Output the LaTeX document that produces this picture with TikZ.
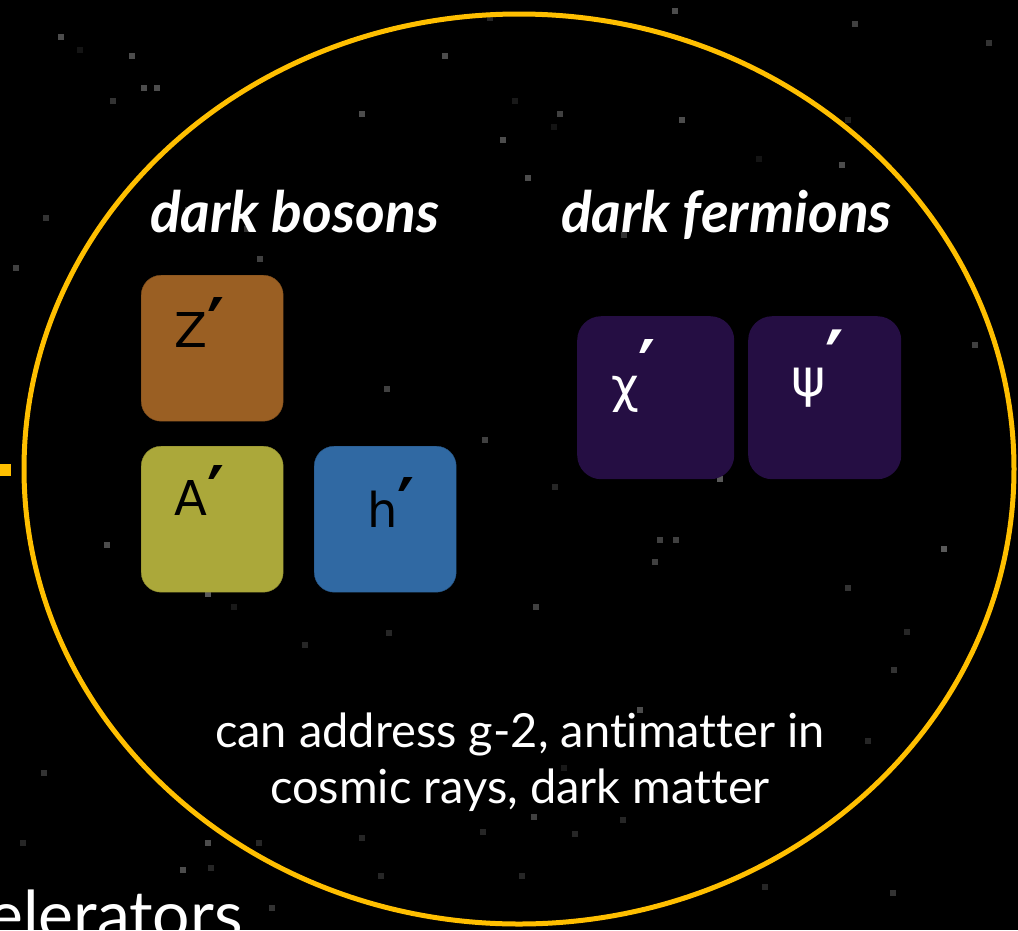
\documentclass[tikz,border=0pt]{standalone}
\usepackage{fontspec}
\setmainfont{Lato}[Ligatures={NoCommon}]
\newfontfamily\glyphfont{DejaVu Sans}
\definecolor{ringgold}{HTML}{FFBF00}
\definecolor{zbrown}{HTML}{9A5F23}
\definecolor{aolive}{HTML}{ABA83A}
\definecolor{hblue}{HTML}{3069A3}
\definecolor{fpurple}{HTML}{250E43}
\newcommand{\dkprime}[1]{\raisebox{#1}{\scalebox{1.35}[1.6]{\bfseries ′}}}

\begin{document}
\begin{tikzpicture}[x=1pt, y=-1pt,
    boson/.style={rounded corners=20pt, minimum width=142pt, minimum height=146pt,
        anchor=north west, inner sep=0pt},
    fermion/.style={boson, rounded corners=24pt, minimum height=163pt, fill=fpurple},
    glyph/.style={font=\glyphfont\fontsize{48}{48}\selectfont, anchor=base west, inner sep=0pt},
    heading/.style={text=white, font=\fontsize{57}{60}\selectfont\bfseries\itshape,
        anchor=base west, inner sep=0pt}]
    % Sky
    \fill[black] (0,0) rectangle (1018,930);
    \useasboundingbox (0,0) rectangle (1018,930);
    \clip (0,0) rectangle (1018,930);
    \foreach \sx/\sy/\sg in {61/37/30, 80/50/8, 132/56/30, 144/88/30, 157/88/30, 113/101/20,
        362/114/30, 445/56/30, 490/18/15, 675/11/30, 855/24/25, 989/43/20, 515/101/10,
        560/114/25, 554/127/8, 503/140/30, 682/120/30, 759/159/8, 842/165/30, 848/120/12,
        528/178/30, 188/210/25, 247/229/20, 260/259/25, 624/235/20, 46/218/20, 16/268/25,
        202/300/40, 221/332/35, 151/409/40, 387/389/25, 485/440/25, 445/498/35, 975/345/25,
        555/487/15, 208/594/35, 234/607/10, 752/415/35, 720/479/35, 944/549/35, 107/545/30,
        660/540/25, 676/540/25, 655/562/25, 536/607/25, 848/588/20, 907/632/15, 894/670/20,
        305/645/15, 389/633/15, 44/773/20, 640/710/30, 564/768/10, 534/817/25, 868/741/15,
        23/843/15, 208/843/30, 259/843/15, 183/870/30, 272/908/20, 381/876/15, 522/876/15,
        362/838/15, 483/832/15, 575/834/15, 623/820/15, 765/887/15, 893/893/20, 211/868/15}
        \fill[white!\sg!black] (\sx-3,\sy-3) rectangle +(6,6);
    % Ring
    \draw[ringgold, line width=5pt] (519,469) ellipse [x radius=495pt, y radius=455pt];
    \coordinate (stub) at (11,470);
    \draw[ringgold, line width=12pt] (0,470) -- (stub);
    % Headings
    \node[heading] (bosons) at (150,232) {dark bosons};
    \node[heading] (fermions) at (561,232) {dark fermions};
    % Bosons
    \node[boson, fill=zbrown, draw=zbrown!80!black] (zbox) at (141,275) {};
    \node[boson, fill=aolive, draw=aolive!80!black] (abox) at (141,446) {};
    \node[boson, fill=hblue, draw=hblue!80!black] (hbox) at (314,446) {};
    \node[glyph] (zlbl) at (174,347) {Z\dkprime{-6pt}};
    \node[glyph] (albl) at (174,515) {A\dkprime{-6pt}};
    \node[glyph] (hlbl) at (367,527) {h\dkprime{-6pt}};
    % Fermions
    \node[fermion, minimum width=157pt] (chibox) at (577,316) {};
    \node[fermion, minimum width=153pt] (psibox) at (748,316) {};
    \node[glyph, text=white] (chilbl) at (611,402) {χ\dkprime{7pt}};
    \node[glyph, text=white, font=\glyphfont\fontsize{52}{52}\selectfont] (psilbl) at (791,396)
        {ψ\dkprime{6pt}};
    % Note
    \node[text=white, align=center, font=\fontsize{47}{56}\selectfont] (note) at (520,762)
        {can address g-2, antimatter in\\cosmic rays, dark matter};
    \node[text=white, anchor=base west, inner sep=0pt, font=\fontsize{66}{66}\selectfont]
        (accel) at (-12,938) {elerators};
\end{tikzpicture}
\end{document}
